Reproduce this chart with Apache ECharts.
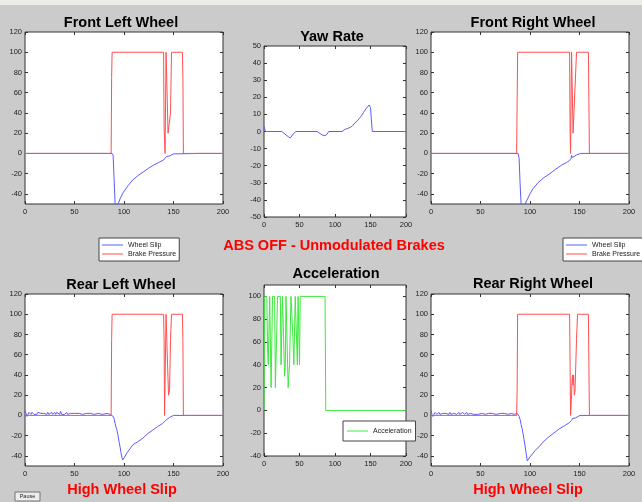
<!DOCTYPE html>
<html>
<head>
<meta charset="utf-8">
<script src="https://cdn.jsdelivr.net/npm/echarts@6/dist/echarts.min.js"></script>
<style>
  html, body { margin: 0; padding: 0; background: #cbcbcb; }
  #chart { width: 642px; height: 502px; }
</style>
</head>
<body>
<div id="chart"></div>
<script>
// tick labels
const timeRange = [0, 200];
const wheelTicks = [-40, -20, 0, 20, 40, 60, 80, 100, 120];
const yawTicks = [-50, -40, -30, -20, -10, 0, 10, 20, 30, 40, 50];
const accTicks = [-40, -20, 0, 20, 40, 60, 80, 100];

// front left wheel
const flSlip = [[0,0],[5,0],[6,-1],[7,0],[33,0],[34,1],[35,0],[45,0],[46,-1],[47,0],[53,0],[54,-1],[55,0],[57,0],[58,-1],[59,0],[70,0],[71,-1],[72,0],[88,0],[88.5,1],[89,-2],[90,-25],[91,-50],[92,-62],[93,-58],[94,-50],[96,-45],[99,-39],[104,-32],[109,-26],[114,-22],[120,-18],[125,-14.5],[130,-11.5],[135,-9],[140,-6.5],[142,-5],[143,-3],[144,-4],[146,-2.5],[148,-1],[150,-0.5],[152,0],[177,0],[178,-1],[179,1],[180,0],[192,0],[193,1],[194,0],[200,0]];
const flBrake = [[0,0],[87,0],[87.5,75],[88,100],[140,100],[140.5,25],[141,25],[141.5,0],[142.5,100],[143,100],[144.5,20],[146,20],[147,40],[148,100],[159,100],[159.5,75],[160,0],[200,0]];

// front right wheel
const frSlip = [[0,0],[4,0],[4.5,1],[5,0],[27,0],[28,-1],[29,0],[35,0],[36,-1],[37,0],[42,0],[43,-1],[44,0],[54,0],[55,-1],[56,0],[57,0],[58,-1],[59,0],[70,0],[71,-1],[72,0],[79,0],[80,-1],[81,0],[88,0],[89,-5],[90,-30],[91,-50],[92,-60],[94,-55],[95,-50],[97,-46],[100,-40],[103,-35],[108,-29],[114,-24],[120,-20],[126,-15.5],[132,-11.5],[137,-9],[140,-7],[141.5,-5],[142,-2],[143,-4],[145,-3],[147,-1.5],[149,-0.5],[151,0],[175,0],[176,-1],[177,-1],[178,0],[179,1],[180,0],[200,0]];
const frBrake = [[0,0],[86.5,0],[87,50],[87.5,100],[140,100],[140.5,20],[141,0],[142,100],[142.5,100],[143.5,20],[145.5,20],[147,100],[159,100],[159.5,50],[160,0],[200,0]];

// rear left wheel
const rlSlip = [[0,5],[1,2],[2,-1],[3,0],[4,3],[5,2],[6,1],[7,3],[8,3],[9,1],[10,1],[11,2],[12,1],[13,3],[14,4],[15,3],[16,2],[17,2],[18,1],[19,2],[20,1],[21,2],[22,1],[23,3],[24,1],[25,1],[26,2],[27,3],[28,1],[29,1],[30,3],[31,1],[32,3],[33,4],[34,2],[35,1],[36,4],[37,1],[38,1],[39,2],[40,1],[41,1],[42,3],[43,1],[44,2],[46,2],[48,1],[50,2],[52,2],[55,2],[58,1],[62,2],[66,2],[70,1],[74,2],[78,1],[80,2],[83,2],[86,1],[88,1],[89,-1],[90,-3],[91,-8],[92,-12],[93,-15],[94,-20],[95,-26],[96,-31],[97,-37],[98,-42],[98.7,-44],[100,-42],[103,-37],[106,-33],[109,-29],[114,-26],[119,-22.5],[124,-18],[129,-14.5],[134,-11],[139,-8],[141,-7],[142,-5],[143,-3.5],[144,-4],[146,-2],[148,-1],[150,0],[176,0],[177,1],[178,0],[192,0],[193,1],[194,0],[200,0]];
const rlBrake = [[0,0],[87,0],[87.5,75],[88,100],[140,100],[140.5,75],[141,0],[142.5,100],[143,100],[144,50],[145,20],[146,25],[147,75],[148,100],[159,100],[159.5,75],[160,0],[200,0]];

// rear right wheel
const rrSlip = [[0,5],[1,1],[2,-1],[3,1],[4,3],[5,2],[6,1],[7,2],[8,3],[9,1],[10,2],[11,1],[12,2],[13,3],[14,3],[15,2],[16,1],[17,2],[18,1],[19,3],[20,1],[21,2],[22,1],[23,2],[24,3],[25,1],[26,1],[27,2],[28,3],[29,1],[30,2],[31,1],[32,3],[33,4],[34,1],[35,2],[36,3],[37,1],[38,2],[39,1],[40,2],[41,1],[42,3],[43,1],[45,2],[47,1],[49,2],[52,2],[55,1],[58,2],[62,2],[66,1],[70,2],[74,2],[78,1],[81,2],[84,1],[87,2],[88,1],[89,-1],[90,-4],[91,-9],[92,-13],[93,-18],[94,-24],[95,-30],[96,-37],[97.3,-45],[100,-41],[105,-35],[110,-30],[113,-26.5],[118,-22],[124,-17.5],[130,-13],[136,-9.5],[140,-7],[142,-5],[143,-3],[144,-4],[146,-2.5],[148,-1],[150.5,0],[177,0],[178,1],[179,0],[200,0]];
const rrBrake = [[0,0],[86.5,0],[87,25],[87.5,100],[140,100],[140.5,50],[141,0],[142,20],[142.5,35],[143,40],[143.5,30],[144,40],[144.8,20],[145.5,25],[147,75],[148,100],[159,100],[159.5,50],[160,0],[200,0]];

// yaw rate
const yawRate = [[0,3],[1,3],[2,0],[25,0],[28,-1],[31,-2],[34,-3],[37,-3.8],[39,-3],[41,-1.5],[43,-1],[45,0],[75,0],[77,-1],[79,-1.2],[80,-1.5],[81,-1],[82,-2],[84,-1.5],[86,-2.5],[88,-3],[89,-1.5],[91,0],[110,0],[113,1],[116,1.5],[119,2],[122,2.5],[125,3.5],[128,5],[131,6],[134,7.5],[137,9],[140,11],[142,12],[144,13.5],[146,14],[148,15.5],[149,16],[150,14],[151,8],[152.5,0],[200,0]];

// acceleration
const acceleration = [[0,0],[0.5,50],[1,100],[4,100],[5,55],[6,40],[7,40],[8,100],[9,100],[10,20],[11,20],[12,100],[15,100],[16,20],[17,20],[18,70],[19,100],[23,100],[24,40],[25,40],[26,100],[28,100],[29,30],[30,40],[31,100],[33,100],[34,20],[35,20],[36,40],[37,40],[38,100],[40,100],[41,60],[42,40],[43,40],[44,100],[46,100],[47,40],[48,100],[49,100],[50,40],[51,100],[86,100],[87,0],[200,0]];

const boxes = [
  { left: 25, top: 32, width: 198, height: 172, min: -50, max: 120, ticks: wheelTicks },
  { left: 264, top: 46, width: 142, height: 171, min: -50, max: 50, ticks: yawTicks },
  { left: 431, top: 32, width: 198, height: 172, min: -50, max: 120, ticks: wheelTicks },
  { left: 25, top: 294, width: 198, height: 172, min: -50, max: 120, ticks: wheelTicks },
  { left: 264, top: 285, width: 142, height: 171, min: -40, max: 110, ticks: accTicks },
  { left: 431, top: 294, width: 198, height: 172, min: -50, max: 120, ticks: wheelTicks }
];

const axisColor = '#333';
const tick = { show: true, inside: true, length: 3, lineStyle: { color: axisColor } };
const label = { color: '#222', fontSize: 7.5, fontFamily: 'Liberation Sans' };
const noLine = { show: false, onZero: false };

const grids = [], xAxes = [], yAxes = [];
boxes.forEach((b, i) => {
  grids.push({
    left: b.left, top: b.top, width: b.width, height: b.height,
    show: true, backgroundColor: '#fff', borderColor: axisColor, borderWidth: 1,
    containLabel: false, outerBoundsMode: 'none'
  });
  ['bottom', 'top'].forEach((pos) => {
    xAxes.push({
      type: 'value', gridIndex: i, position: pos,
      min: timeRange[0], max: timeRange[1], interval: 50,
      axisLine: noLine, splitLine: { show: false },
      axisTick: tick,
      axisLabel: pos === 'bottom' ? { ...label, margin: 4 } : { show: false }
    });
  });
  ['left', 'right'].forEach((pos) => {
    yAxes.push({
      type: 'value', gridIndex: i, position: pos,
      min: b.min, max: b.max,
      axisLine: noLine, splitLine: { show: false },
      axisTick: { ...tick, customValues: b.ticks },
      axisLabel: pos === 'left' ? { ...label, margin: 3, customValues: b.ticks } : { show: false }
    });
  });
});

const blue = '#5c5cff';
const red = '#ff4f4f';
const green = '#3ee83e';

function line(name, data, grid, color) {
  return {
    name, type: 'line', data,
    xAxisIndex: grid * 2, yAxisIndex: grid * 2,
    symbol: 'none', clip: true,
    lineStyle: { color, width: 1 }, itemStyle: { color }
  };
}

const legendBase = {
  orient: 'vertical', backgroundColor: '#fff', borderColor: '#444', borderWidth: 1,
  borderRadius: 0, padding: [3, 3], itemGap: 1, itemWidth: 21, itemHeight: 1,
  icon: 'rect',
  textStyle: { fontSize: 7, color: '#222', fontFamily: 'Liberation Sans', lineHeight: 8 },
  selectedMode: false
};

const titles = [
  ['Front Left Wheel', 121, 23],
  ['Yaw Rate', 332, 37],
  ['Front Right Wheel', 533, 23],
  ['Rear Left Wheel', 121, 285],
  ['Acceleration', 336, 274],
  ['Rear Right Wheel', 533, 284]
];
const redNotes = [
  ['ABS OFF - Unmodulated Brakes', 334, 246, 14.5],
  ['High Wheel Slip', 122, 490, 14.5],
  ['High Wheel Slip', 528, 490, 14.5]
];

const graphics = [
  { type: 'rect', shape: { x: 0, y: 0, width: 642, height: 5 }, style: { fill: '#ecebe6' }, silent: true },
  { type: 'rect', shape: { x: 15, y: 492, width: 25, height: 9 }, style: { fill: '#ececec', stroke: '#777', lineWidth: 1 } },
  { type: 'text', x: 27.5, y: 496.5, style: { text: 'Pause', font: '5.5px Liberation Sans', fill: '#222', textAlign: 'center', textVerticalAlign: 'middle' } }
];
titles.forEach(([t, x, y]) => graphics.push({
  type: 'text', x, y,
  style: { text: t, font: 'bold 14.5px Liberation Sans', fill: '#000', textAlign: 'center', textVerticalAlign: 'middle' }
}));
redNotes.forEach(([t, x, y, s]) => graphics.push({
  type: 'text', x, y,
  style: { text: t, font: 'bold ' + s + 'px Liberation Sans', fill: '#ff0000', textAlign: 'center', textVerticalAlign: 'middle' }
}));

const chart = echarts.init(document.getElementById('chart'), null, { renderer: 'canvas' });
chart.setOption({
  animation: false,
  backgroundColor: '#cbcbcb',
  grid: grids,
  xAxis: xAxes,
  yAxis: yAxes,
  legend: [
    { ...legendBase, data: ['Wheel Slip', 'Brake Pressure'], left: 99, top: 238 },
    { ...legendBase, data: ['Wheel Slip', 'Brake Pressure'], left: 563, top: 238 },
    { ...legendBase, data: ['Acceleration'], left: 343, top: 421, padding: [6, 4] }
  ],
  graphic: graphics,
  series: [
    line('Wheel Slip', flSlip, 0, blue),
    line('Brake Pressure', flBrake, 0, red),
    line('Yaw Rate', yawRate, 1, blue),
    line('Wheel Slip', frSlip, 2, blue),
    line('Brake Pressure', frBrake, 2, red),
    line('Wheel Slip', rlSlip, 3, blue),
    line('Brake Pressure', rlBrake, 3, red),
    line('Acceleration', acceleration, 4, green),
    line('Wheel Slip', rrSlip, 5, blue),
    line('Brake Pressure', rrBrake, 5, red)
  ]
});
</script>
</body>
</html>
